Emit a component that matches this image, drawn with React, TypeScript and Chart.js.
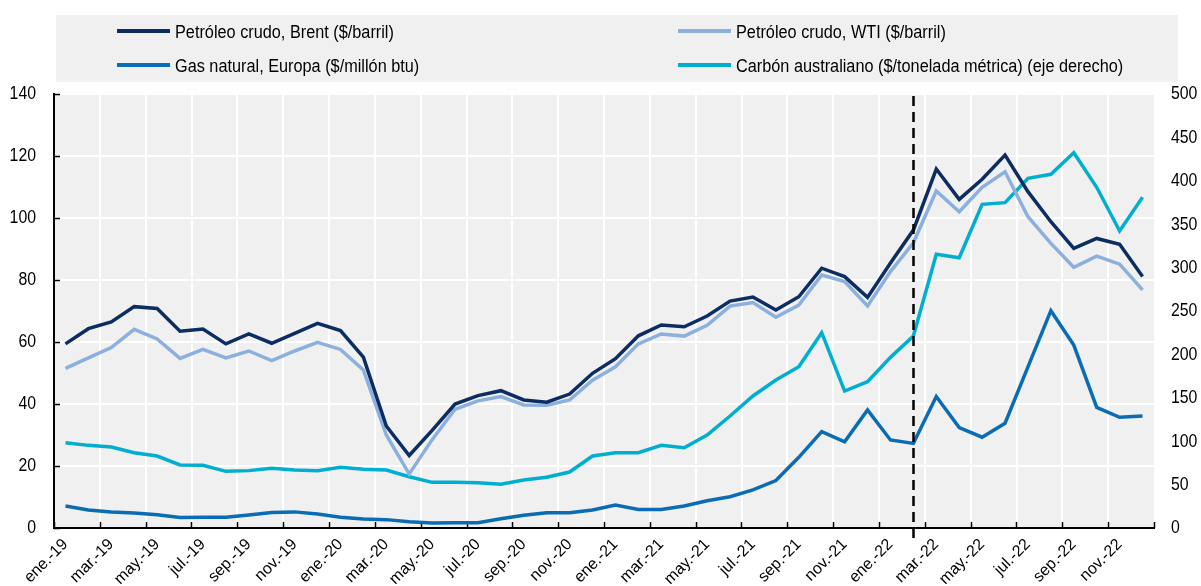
import React, { useEffect, useRef } from 'react';
import { Chart, registerables } from 'chart.js';

Chart.register(...registerables);

const monthNames = ['ene.', 'feb.', 'mar.', 'abr.', 'may.', 'jun.', 'jul.', 'ago.', 'sep.', 'oct.', 'nov.', 'dic.'];
const yearSuffixes = ['19', '20', '21', '22'];
const labels = yearSuffixes.flatMap((y) => monthNames.map((m) => `${m}-${y}`));

const markerLabel = 'feb.-22';

const brent = [
  59.4, 64.3, 66.5, 71.4, 70.8, 63.5, 64.2, 59.4, 62.6, 59.6, 62.8, 66.0,
  63.7, 55.1, 32.9, 23.4, 31.5, 40.0, 42.7, 44.3, 41.3, 40.6, 43.2, 49.9,
  54.6, 62.0, 65.5, 64.9, 68.4, 73.2, 74.5, 70.3, 74.6, 83.8, 81.1, 74.4,
  85.5, 96.1, 115.8, 106.0, 112.5, 120.3, 108.5, 98.8, 90.2, 93.4, 91.5, 81.1,
];
const wti = [
  51.5, 54.9, 58.2, 64.1, 61.0, 54.7, 57.6, 54.9, 57.1, 54.0, 57.1, 59.9,
  57.6, 51.0, 30.0, 17.4, 28.5, 38.3, 41.0, 42.4, 39.7, 39.6, 41.3, 47.7,
  52.0, 59.4, 62.6, 61.9, 65.4, 71.6, 72.7, 68.0, 71.9, 81.6, 79.5, 71.6,
  82.7, 92.0, 108.7, 102.0, 109.9, 114.9, 100.4, 91.8, 84.1, 87.7, 85.1, 76.8,
];
const gasEuropa = [
  7.1, 5.8, 5.2, 4.8, 4.3, 3.4, 3.5, 3.5, 4.2, 5.0, 5.2, 4.5,
  3.5, 2.9, 2.7, 2.0, 1.6, 1.7, 1.7, 3.0, 4.1, 4.9, 4.9, 5.8,
  7.4, 6.0, 6.0, 7.1, 8.8, 10.1, 12.3, 15.3, 22.8, 31.1, 27.8, 38.1,
  28.4, 27.3, 42.4, 32.4, 29.3, 33.8, 52.0, 70.1, 59.0, 38.9, 35.7, 36.1,
];
const carbonAustraliano = [
  98.3, 95.2, 93.3, 86.8, 82.9, 72.6, 72.2, 65.3, 66.1, 68.8, 66.8, 66.1,
  69.9, 67.6, 66.8, 59.1, 52.6, 52.6, 52.2, 50.3, 55.3, 58.4, 64.5, 82.9,
  86.8, 86.8, 95.3, 92.5, 107.1, 129.0, 152.1, 170.5, 185.8, 225.0, 157.8, 168.5,
  196.6, 221.2, 315.3, 311.4, 372.9, 374.8, 402.9, 407.5, 432.4, 392.5, 342.2, 381.0,
];

const seriesLabels = [
  'Petróleo crudo, Brent ($/barril)',
  'Petróleo crudo, WTI ($/barril)',
  'Gas natural, Europa ($/millón btu)',
  'Carbón australiano ($/tonelada métrica) (eje derecho)',
];
const seriesColors = ['#0b2d62', '#8cb0de', '#0a6cb4', '#00aecf'];

const FONT = '"Liberation Sans", Arial, sans-serif';
const PLOT_BG = '#f0f0f0';
const SQUEEZE = 0.93;

function drawText(ctx: CanvasRenderingContext2D, text: string, x: number, y: number, align: CanvasTextAlign, sx: number) {
  ctx.save();
  ctx.translate(x, y);
  ctx.scale(sx, 1);
  ctx.textAlign = align;
  ctx.fillText(text, 0, 0);
  ctx.restore();
}

const customPlugin = {
  id: 'custom',
  beforeDraw(chart: any) {
    const { ctx, chartArea } = chart;
    ctx.save();
    // legend box
    ctx.fillStyle = PLOT_BG;
    ctx.fillRect(56, 15, 1122, 67);
    const pos = [
      { x: 117, y: 31, t: 175 },
      { x: 678, y: 31, t: 736 },
      { x: 117, y: 65, t: 175 },
      { x: 678, y: 65, t: 736 },
    ];
    ctx.font = `17.5px ${FONT}`;
    ctx.textBaseline = 'alphabetic';
    chart.data.datasets.forEach((ds: any, i: number) => {
      const p = pos[i];
      ctx.strokeStyle = ds.borderColor;
      ctx.lineWidth = 4;
      ctx.lineCap = 'butt';
      ctx.beginPath();
      ctx.moveTo(p.x, p.y);
      ctx.lineTo(p.x + 53, p.y);
      ctx.stroke();
      ctx.fillStyle = '#000';
      drawText(ctx, ds.label, p.t, p.y + 7, 'left', SQUEEZE);
    });
    // plot background
    ctx.fillStyle = PLOT_BG;
    ctx.fillRect(chartArea.left, chartArea.top, chartArea.right - chartArea.left, chartArea.bottom - chartArea.top);
    ctx.restore();
  },
  beforeDatasetsDraw(chart: any) {
    const { ctx, chartArea, scales } = chart;
    const x = scales.x;
    const y = scales.y;
    const y1 = scales.y1;
    ctx.save();
    ctx.strokeStyle = '#000';
    ctx.lineWidth = 1.5;
    ctx.beginPath();
    // inward ticks on left axis
    y.ticks.forEach((t: any) => {
      const py = Math.round(y.getPixelForValue(t.value)) + 0.5;
      ctx.moveTo(chartArea.left, py);
      ctx.lineTo(chartArea.left + 6, py);
    });
    // inward ticks on bottom axis at every second category boundary
    const n = labels.length;
    const half = (x.getPixelForValue(1) - x.getPixelForValue(0)) / 2;
    for (let i = 0; i <= n; i += 2) {
      const px = i < n ? x.getPixelForValue(i) - half : chartArea.right;
      const rx = Math.round(px) + 0.5;
      ctx.moveTo(rx, chartArea.bottom);
      ctx.lineTo(rx, chartArea.bottom - 6);
    }
    ctx.stroke();

    // axis tick labels (slightly condensed, as in the source)
    ctx.fillStyle = '#000';
    ctx.font = `18px ${FONT}`;
    ctx.textBaseline = 'middle';
    y.ticks.forEach((t: any) => {
      drawText(ctx, String(t.label), 36, y.getPixelForValue(t.value) + 0.5, 'right', 0.88);
    });
    y1.ticks.forEach((t: any) => {
      drawText(ctx, String(t.label), 1171, y1.getPixelForValue(t.value) + 0.5, 'left', 0.88);
    });
    ctx.restore();
  },
  afterDatasetsDraw(chart: any) {
    const { ctx, chartArea, scales } = chart;
    const idx = labels.indexOf(markerLabel);
    const px = Math.round(scales.x.getPixelForValue(idx)) + 0.5;
    ctx.save();
    ctx.strokeStyle = '#000';
    ctx.lineWidth = 2.5;
    ctx.setLineDash([10, 6]);
    ctx.beginPath();
    ctx.moveTo(px, chartArea.top + 2);
    ctx.lineTo(px, chartArea.bottom + 10);
    ctx.stroke();
    ctx.restore();
  },
};

export default function App() {
  const canvasRef = useRef<HTMLCanvasElement | null>(null);

  useEffect(() => {
    const canvas = canvasRef.current;
    if (!canvas) return;
    const mk = (label: string, data: number[], color: string, axis: string) => ({
      label,
      data,
      borderColor: color,
      backgroundColor: color,
      borderWidth: 3.5,
      pointRadius: 0,
      pointHoverRadius: 0,
      tension: 0,
      fill: false,
      yAxisID: axis,
    });
    const chart = new Chart(canvas, {
      type: 'line',
      data: {
        labels,
        datasets: [
          mk(seriesLabels[0], brent, seriesColors[0], 'y'),
          mk(seriesLabels[1], wti, seriesColors[1], 'y'),
          mk(seriesLabels[2], gasEuropa, seriesColors[2], 'y'),
          mk(seriesLabels[3], carbonAustraliano, seriesColors[3], 'y1'),
        ],
      },
      options: {
        responsive: false,
        animation: false,
        devicePixelRatio: 1,
        layout: { padding: { top: 94, left: 0, right: 0, bottom: 0 } },
        font: { family: FONT },
        plugins: {
          legend: { display: false },
          tooltip: { enabled: false },
        },
        scales: {
          x: {
            type: 'category',
            offset: true,
            afterFit: (s: any) => {
              s.height = 58;
            },
            grid: {
              offset: true,
              drawTicks: false,
              lineWidth: 2,
              color: (c: any) => (c.index % 2 === 0 ? '#ffffff' : 'rgba(0,0,0,0)'),
            },
            border: { display: true, color: '#000', width: 2 },
            ticks: {
              autoSkip: false,
              maxRotation: 45,
              minRotation: 45,
              padding: 7,
              color: '#000',
              font: { family: FONT, size: 16 },
              callback: (_v: any, i: number) => (i % 2 === 0 ? labels[i] : ''),
            },
          },
          y: {
            position: 'left',
            min: 0,
            max: 140,
            afterFit: (s: any) => {
              s.width = 54;
            },
            grid: { color: '#ffffff', lineWidth: 2, drawTicks: false },
            border: { display: true, color: '#000', width: 2 },
            ticks: {
              stepSize: 20,
              display: false,
            },
          },
          y1: {
            position: 'right',
            min: 0,
            max: 500,
            afterFit: (s: any) => {
              s.width = 47;
            },
            grid: { display: false, drawTicks: false },
            border: { display: false },
            ticks: {
              stepSize: 50,
              display: false,
            },
          },
        },
      } as any,
      plugins: [customPlugin],
    });
    return () => chart.destroy();
  }, []);

  return (
    <div style={{ position: 'fixed', left: 0, top: 0, width: 1201, height: 586, background: '#fff' }}>
      <canvas ref={canvasRef} width={1201} height={586} style={{ display: 'block' }} />
    </div>
  );
}
